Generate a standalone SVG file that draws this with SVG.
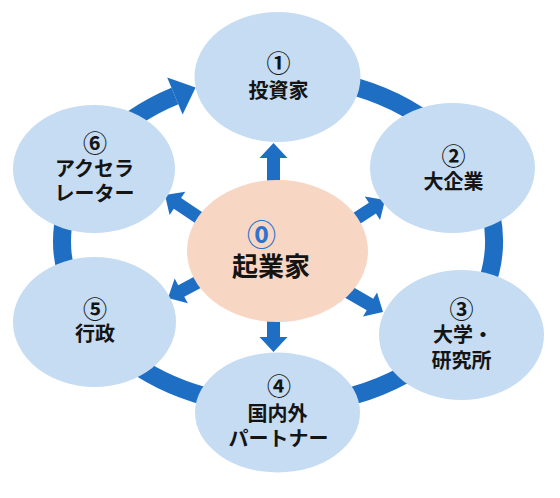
<svg xmlns="http://www.w3.org/2000/svg" width="560" height="498" viewBox="0 0 560 498">
<style>
.ring{fill:none;stroke:#1E6EC4;stroke-width:18}
.arw{fill:#1E6EC4}
.node{fill:#C5DCF2}
.center{fill:#F8D6C4}
text{font-family:"Noto Sans CJK JP","DejaVu Sans",sans-serif;font-weight:bold;fill:#141414;text-anchor:middle}
.lbl{font-size:20px}
.num{font-size:24px}
.big{font-size:26px}
.zero{font-size:29px;fill:#2C74CF}
</style>
<defs>
<path id="ba" d="M-42,-6.5 H-15 V-14 L0,0 L-15,14 V6.5 H-42 Z"/>
</defs>
<g id="connectors">
<path class="ring" d="M259.2,76.6 A216,165 0 1 1 174.9,96"/>
<polygon class="arw" points="182.6,114.5 167.2,77.5 195.6,87.4"/>
<use href="#ba" class="arw" transform="translate(273.5,143) rotate(-90)"/>
<use href="#ba" class="arw" transform="translate(385,200) rotate(-33)"/>
<use href="#ba" class="arw" transform="translate(383,312) rotate(30)"/>
<use href="#ba" class="arw" transform="translate(273.5,352) rotate(90)"/>
<use href="#ba" class="arw" transform="translate(168,298) rotate(152)"/>
<use href="#ba" class="arw" transform="translate(165,195) rotate(-146)"/>
</g>
<g id="n1">
<ellipse class="node" cx="277.5" cy="77" rx="83" ry="65"/>
<text class="num" x="278.5" y="72">①</text>
<text class="lbl" x="278.5" y="98">投資家</text>
</g>
<g id="n2">
<ellipse class="node" cx="452.5" cy="168" rx="82.5" ry="65"/>
<text class="num" x="453.5" y="165">②</text>
<text class="lbl" x="453.5" y="189">大企業</text>
</g>
<g id="n3">
<ellipse class="node" cx="461.5" cy="335" rx="82.5" ry="65"/>
<text class="num" x="461.5" y="318">③</text>
<text class="lbl" x="463" y="342">大学・</text>
<text class="lbl" x="461.5" y="368">研究所</text>
</g>
<g id="n4">
<ellipse class="node" cx="277.5" cy="412.5" rx="82.5" ry="60"/>
<text class="num" x="279" y="395">④</text>
<text class="lbl" x="277.5" y="421">国内外</text>
<text class="lbl" x="278.5" y="446">パートナー</text>
</g>
<g id="n5">
<ellipse class="node" cx="94.5" cy="322" rx="81.5" ry="65"/>
<text class="num" x="95" y="318">⑤</text>
<text class="lbl" x="95" y="341">行政</text>
</g>
<g id="n6">
<ellipse class="node" cx="94" cy="169" rx="81" ry="64"/>
<text class="num" x="95" y="152">⑥</text>
<text class="lbl" x="94.5" y="176">アクセラ</text>
<text class="lbl" x="94.5" y="201">レーター</text>
</g>
<g id="n0">
<ellipse class="center" cx="277.5" cy="251" rx="90.5" ry="71"/>
<text class="zero" x="261.5" y="246">⓪</text>
<text class="big" x="271" y="276">起業家</text>
</g>
</svg>
